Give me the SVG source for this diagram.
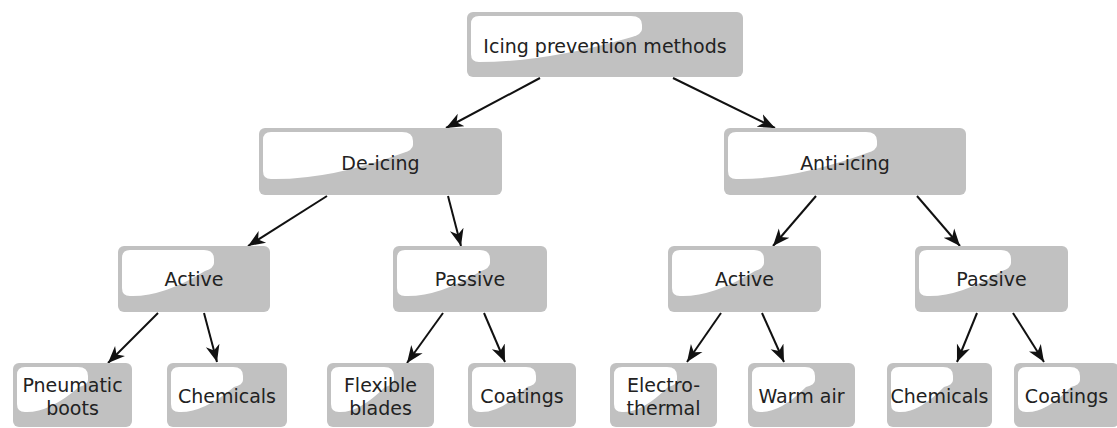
<svg xmlns="http://www.w3.org/2000/svg" width="1117" height="428" viewBox="0 0 1117 428">
<style>
.box{fill:#c1c1c1;}
.hl{fill:#ffffff;}
.lbl{font-family:"DejaVu Sans","Liberation Sans",sans-serif;font-size:19px;fill:#222222;text-anchor:middle;}
.edge{stroke:#111;stroke-width:2;fill:none;marker-end:url(#arr);}
</style>
<defs>
<marker id="arr" markerUnits="userSpaceOnUse" markerWidth="20" markerHeight="16" refX="17" refY="8" orient="auto">
<path d="M0,1 L17,8 L0,15 L5,8 Z" fill="#111"/>
</marker>
</defs>
<rect width="1117" height="428" fill="#ffffff"/>
<g id="connectors">
<line class="edge" x1="540" y1="78" x2="446" y2="128"/>
<line class="edge" x1="673" y1="78" x2="775" y2="128"/>
<line class="edge" x1="327" y1="196" x2="248" y2="246"/>
<line class="edge" x1="448" y1="196" x2="461" y2="246"/>
<line class="edge" x1="816" y1="196" x2="773" y2="246"/>
<line class="edge" x1="917" y1="196" x2="960" y2="246"/>
<line class="edge" x1="158" y1="313" x2="108" y2="363"/>
<line class="edge" x1="204" y1="313" x2="217" y2="362"/>
<line class="edge" x1="443" y1="313" x2="407" y2="363"/>
<line class="edge" x1="484" y1="313" x2="505" y2="362"/>
<line class="edge" x1="721" y1="313" x2="687" y2="362"/>
<line class="edge" x1="762" y1="313" x2="784" y2="362"/>
<line class="edge" x1="977" y1="313" x2="957" y2="362"/>
<line class="edge" x1="1013" y1="313" x2="1044" y2="362"/>
</g>
<g id="root">
<rect class="box" x="467" y="12" width="276" height="65" rx="6"/>
<path class="hl" d="M479,16 H631 Q642,16 642,25 V29 Q642,34 632,37 Q547,62 479,62 Q471,62 471,54 V24 Q471,16 479,16 Z"/>
<text class="lbl" x="605" y="53">Icing prevention methods</text>
</g>
<g id="deicing">
<rect class="box" x="259" y="128" width="243" height="67" rx="6"/>
<path class="hl" d="M271,132 H402 Q413,132 413,141 V145 Q413,150 403,153 Q330,180 271,179 Q263,179 263,171 V140 Q263,132 271,132 Z"/>
<text class="lbl" x="380.5" y="170">De-icing</text>
</g>
<g id="antiicing">
<rect class="box" x="724" y="128" width="242" height="67" rx="6"/>
<path class="hl" d="M736,132 H866 Q877,132 877,141 V145 Q877,150 867,153 Q794,180 736,179 Q728,179 728,171 V140 Q728,132 736,132 Z"/>
<text class="lbl" x="845" y="170">Anti-icing</text>
</g>
<g id="de-active">
<rect class="box" x="118" y="246" width="152" height="66" rx="6"/>
<path class="hl" d="M130,250 H204 Q214,250 214,259 V263 Q214,268 205,271 Q163,297 130,296 Q122,296 122,288 V258 Q122,250 130,250 Z"/>
<text class="lbl" x="194" y="286">Active</text>
</g>
<g id="de-passive">
<rect class="box" x="393" y="246" width="154" height="66" rx="6"/>
<path class="hl" d="M405,250 H480 Q490,250 490,259 V263 Q490,268 481,271 Q439,297 405,296 Q397,296 397,288 V258 Q397,250 405,250 Z"/>
<text class="lbl" x="470" y="286">Passive</text>
</g>
<g id="anti-active">
<rect class="box" x="668" y="246" width="153" height="66" rx="6"/>
<path class="hl" d="M680,250 H754 Q764,250 764,259 V263 Q764,268 755,271 Q713,297 680,296 Q672,296 672,288 V258 Q672,250 680,250 Z"/>
<text class="lbl" x="744.5" y="286">Active</text>
</g>
<g id="anti-passive">
<rect class="box" x="915" y="246" width="153" height="66" rx="6"/>
<path class="hl" d="M927,250 H1001 Q1011,250 1011,259 V263 Q1011,268 1002,271 Q960,297 927,296 Q919,296 919,288 V258 Q919,250 927,250 Z"/>
<text class="lbl" x="991.5" y="286">Passive</text>
</g>
<g id="pneumatic">
<rect class="box" x="13" y="363" width="119" height="64" rx="6"/>
<path class="hl" d="M25,367 H78 Q88,367 88,376 V380 Q88,385 79,387 Q49,413 25,412 Q17,412 17,404 V375 Q17,367 25,367 Z"/>
<text class="lbl" x="72.5" y="391.5">Pneumatic</text>
<text class="lbl" x="72.5" y="415">boots</text>
</g>
<g id="de-chemicals">
<rect class="box" x="167" y="363" width="120" height="64" rx="6"/>
<path class="hl" d="M179,367 H233 Q243,367 243,376 V380 Q243,385 234,387 Q203,413 179,412 Q171,412 171,404 V375 Q171,367 179,367 Z"/>
<text class="lbl" x="227" y="403">Chemicals</text>
</g>
<g id="flexible">
<rect class="box" x="327" y="363" width="107" height="64" rx="6"/>
<path class="hl" d="M339,367 H384 Q394,367 394,376 V380 Q394,385 385,387 Q359,413 339,412 Q331,412 331,404 V375 Q331,367 339,367 Z"/>
<text class="lbl" x="380.5" y="391.5">Flexible</text>
<text class="lbl" x="380.5" y="415">blades</text>
</g>
<g id="de-coatings">
<rect class="box" x="468" y="363" width="108" height="64" rx="6"/>
<path class="hl" d="M480,367 H526 Q536,367 536,376 V380 Q536,385 527,387 Q501,413 480,412 Q472,412 472,404 V375 Q472,367 480,367 Z"/>
<text class="lbl" x="522" y="403">Coatings</text>
</g>
<g id="electrothermal">
<rect class="box" x="610" y="363" width="107" height="64" rx="6"/>
<path class="hl" d="M622,367 H667 Q677,367 677,376 V380 Q677,385 668,387 Q642,413 622,412 Q614,412 614,404 V375 Q614,367 622,367 Z"/>
<text class="lbl" x="663.5" y="391.5">Electro-</text>
<text class="lbl" x="663.5" y="415">thermal</text>
</g>
<g id="warmair">
<rect class="box" x="748" y="363" width="107" height="64" rx="6"/>
<path class="hl" d="M760,367 H805 Q815,367 815,376 V380 Q815,385 806,387 Q780,413 760,412 Q752,412 752,404 V375 Q752,367 760,367 Z"/>
<text class="lbl" x="801.5" y="403">Warm air</text>
</g>
<g id="anti-chemicals">
<rect class="box" x="887" y="363" width="105" height="64" rx="6"/>
<path class="hl" d="M899,367 H943 Q953,367 953,376 V380 Q953,385 944,387 Q919,413 899,412 Q891,412 891,404 V375 Q891,367 899,367 Z"/>
<text class="lbl" x="939.5" y="403">Chemicals</text>
</g>
<g id="anti-coatings">
<rect class="box" x="1014" y="363" width="105" height="64" rx="6"/>
<path class="hl" d="M1026,367 H1070 Q1080,367 1080,376 V380 Q1080,385 1071,387 Q1046,413 1026,412 Q1018,412 1018,404 V375 Q1018,367 1026,367 Z"/>
<text class="lbl" x="1066.5" y="403">Coatings</text>
</g>
</svg>
